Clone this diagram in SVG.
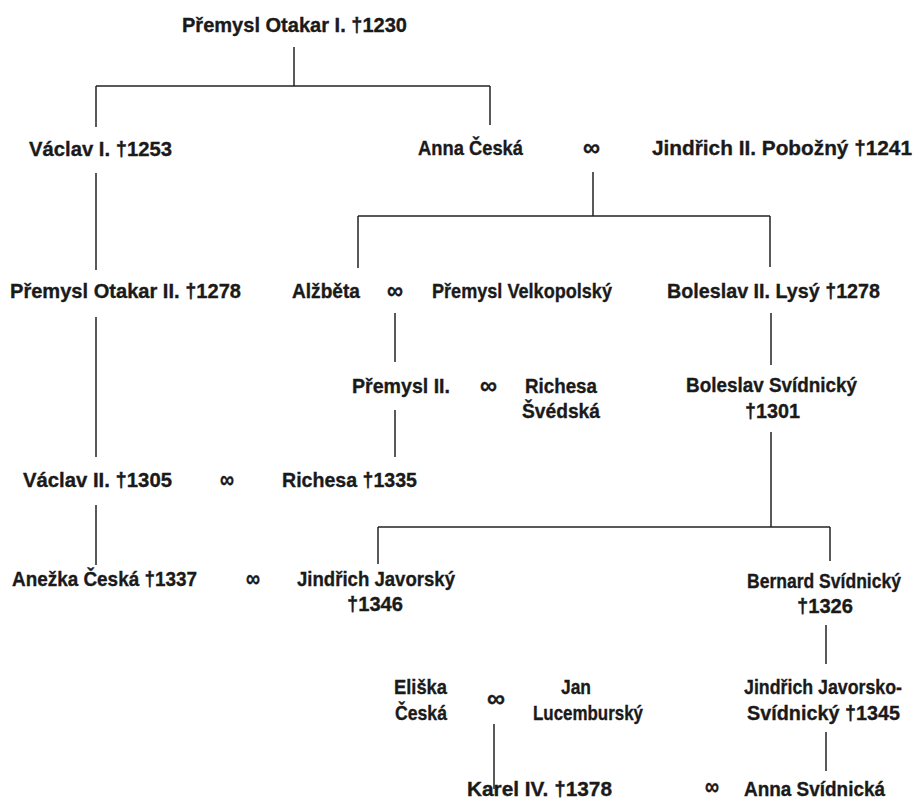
<svg xmlns="http://www.w3.org/2000/svg" width="920" height="801" viewBox="0 0 920 801">
<style>
text{font-family:"Liberation Sans Narrow","Liberation Sans",Arial,sans-serif;font-weight:bold;font-size:21px;fill:#1a1a1a;stroke:#1a1a1a;stroke-width:0.35}
.m{font-size:25px}
.c{text-anchor:middle}
.e{text-anchor:end}
#connectors line{stroke:#222;stroke-width:1.5}
</style>
<rect width="920" height="801" fill="#fff"/>
<g id="connectors">
<line x1="294" y1="47" x2="294" y2="86"/>
<line x1="96" y1="86" x2="490" y2="86"/>
<line x1="96" y1="86" x2="96" y2="127"/>
<line x1="490" y1="86" x2="490" y2="125"/>
<line x1="96" y1="173" x2="96" y2="270"/>
<line x1="593" y1="172" x2="593" y2="216"/>
<line x1="358" y1="216" x2="770" y2="216"/>
<line x1="358" y1="216" x2="358" y2="268"/>
<line x1="770" y1="216" x2="770" y2="267"/>
<line x1="96" y1="317" x2="96" y2="457"/>
<line x1="395" y1="313" x2="395" y2="362"/>
<line x1="771" y1="313" x2="771" y2="365"/>
<line x1="395" y1="410" x2="395" y2="457"/>
<line x1="771" y1="432" x2="771" y2="527"/>
<line x1="378" y1="527" x2="830" y2="527"/>
<line x1="378" y1="527" x2="378" y2="564"/>
<line x1="830" y1="527" x2="830" y2="561"/>
<line x1="96" y1="505" x2="96" y2="565"/>
<line x1="826" y1="625" x2="826" y2="664"/>
<line x1="826" y1="732" x2="826" y2="771"/>
<line x1="494" y1="724" x2="494" y2="789"/>
</g>
<g id="n1"><text x="182" y="32" textLength="225" lengthAdjust="spacingAndGlyphs">Přemysl Otakar I. †1230</text></g>
<g id="n2"><text x="29" y="156" textLength="143" lengthAdjust="spacingAndGlyphs">Václav I. †1253</text></g>
<g id="n3"><text x="418" y="155" textLength="105" lengthAdjust="spacingAndGlyphs">Anna Česká</text></g>
<g id="m1"><text class="m" x="583" y="156" textLength="17" lengthAdjust="spacingAndGlyphs">∞</text></g>
<g id="n4"><text x="652" y="155" textLength="260" lengthAdjust="spacingAndGlyphs">Jindřich II. Pobožný †1241</text></g>
<g id="n5"><text x="10" y="298" textLength="231" lengthAdjust="spacingAndGlyphs">Přemysl Otakar II. †1278</text></g>
<g id="n6"><text x="292" y="298" textLength="68" lengthAdjust="spacingAndGlyphs">Alžběta</text></g>
<g id="m2"><text class="m" x="387" y="299" textLength="16" lengthAdjust="spacingAndGlyphs">∞</text></g>
<g id="n7"><text x="432" y="298" textLength="180" lengthAdjust="spacingAndGlyphs">Přemysl Velkopolský</text></g>
<g id="n8"><text x="667" y="298" textLength="213" lengthAdjust="spacingAndGlyphs">Boleslav II. Lysý †1278</text></g>
<g id="n9"><text x="352" y="393" textLength="98" lengthAdjust="spacingAndGlyphs">Přemysl II.</text></g>
<g id="m3"><text class="m" x="480" y="394" textLength="17" lengthAdjust="spacingAndGlyphs">∞</text></g>
<g id="n10"><text x="525" y="393" textLength="72" lengthAdjust="spacingAndGlyphs">Richesa</text><text x="522" y="418" textLength="78" lengthAdjust="spacingAndGlyphs">Švédská</text></g>
<g id="n11"><text x="686" y="392" textLength="171" lengthAdjust="spacingAndGlyphs">Boleslav Svídnický</text><text x="745" y="418" textLength="55" lengthAdjust="spacingAndGlyphs">†1301</text></g>
<g id="n12"><text x="23" y="487" textLength="149" lengthAdjust="spacingAndGlyphs">Václav II. †1305</text></g>
<g id="m4"><text class="m" x="220" y="488" textLength="14" lengthAdjust="spacingAndGlyphs">∞</text></g>
<g id="n13"><text x="282" y="487" textLength="135" lengthAdjust="spacingAndGlyphs">Richesa †1335</text></g>
<g id="n14"><text x="12" y="586" textLength="185" lengthAdjust="spacingAndGlyphs">Anežka Česká †1337</text></g>
<g id="m5"><text class="m" x="246" y="587" textLength="14" lengthAdjust="spacingAndGlyphs">∞</text></g>
<g id="n15"><text x="297" y="586" textLength="158" lengthAdjust="spacingAndGlyphs">Jindřich Javorský</text><text x="347" y="611" textLength="56" lengthAdjust="spacingAndGlyphs">†1346</text></g>
<g id="n16"><text class="e" x="901" y="588" textLength="154" lengthAdjust="spacingAndGlyphs">Bernard Svídnický</text><text class="c" x="825" y="613" textLength="56" lengthAdjust="spacingAndGlyphs">†1326</text></g>
<g id="n17"><text x="394" y="694" textLength="53" lengthAdjust="spacingAndGlyphs">Eliška</text><text x="395" y="720" textLength="52" lengthAdjust="spacingAndGlyphs">Česká</text></g>
<g id="m6"><text class="m" x="487" y="707" textLength="18" lengthAdjust="spacingAndGlyphs">∞</text></g>
<g id="n18"><text x="561" y="694" textLength="30" lengthAdjust="spacingAndGlyphs">Jan</text><text x="533" y="720" textLength="110" lengthAdjust="spacingAndGlyphs">Lucemburský</text></g>
<g id="n19"><text class="e" x="902" y="694" textLength="158" lengthAdjust="spacingAndGlyphs">Jindřich Javorsko-</text><text class="e" x="900" y="720" textLength="153" lengthAdjust="spacingAndGlyphs">Svídnický †1345</text></g>
<g id="n20"><text x="467" y="796" textLength="145" lengthAdjust="spacingAndGlyphs">Karel IV. †1378</text></g>
<g id="m7"><text class="m" x="705" y="795" textLength="14" lengthAdjust="spacingAndGlyphs">∞</text></g>
<g id="n21"><text x="744" y="796" textLength="141" lengthAdjust="spacingAndGlyphs">Anna Svídnická</text></g>
</svg>
